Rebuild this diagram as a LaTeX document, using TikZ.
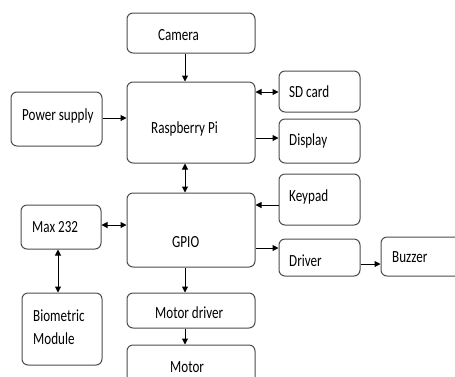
\documentclass[tikz,border=0pt]{standalone}
\usepackage{fontspec}
\usepackage{graphicx}
\setmainfont{Carlito}
\usetikzlibrary{arrows.meta}
\newcommand{\sq}[1]{\scalebox{0.77}[1]{#1}}
\tikzset{
  box/.style={draw=black!70, line width=1pt, rounded corners=6pt, inner sep=0pt, fill=white},
  lbl/.style={anchor=base west, inner sep=0pt, font=\fontsize{17}{20}\selectfont, text=black},
  conn/.style={line width=1pt, -{Triangle[length=6pt,width=6pt]}},
  bconn/.style={line width=1pt, {Triangle[length=6pt,width=6pt]}-{Triangle[length=6pt,width=6pt]}}
}
\newcommand{\bx}[5]{%
  \node[box, minimum width=#4pt-#2pt, minimum height=#5pt-#3pt] (#1) at ({(#2+#4)/2*1pt},{-(#3+#5)/2*1pt}) {};}
\begin{document}
\begin{tikzpicture}
\useasboundingbox (0,0) rectangle (455pt,-376pt);
\clip (0,0) rectangle (455pt,-376pt);
\bx{cam}{127}{13}{255}{53}
\bx{rpi}{127}{82}{255}{163}
\bx{pow}{11}{92}{102}{146}
\bx{sd}{279}{71}{360}{112}
\bx{disp}{279}{119}{360}{163}
\bx{key}{279}{174}{360}{225}
\bx{gpio}{127}{193}{255}{267}
\bx{drv}{279}{239}{360}{276}
\bx{buz}{381}{237}{520}{276}
\bx{max}{21}{205}{101}{249}
\bx{bio}{22}{293}{102}{365}
\bx{mdrv}{127}{293}{255}{328}
\bx{mot}{127}{345}{255}{420}
% labels
\node[lbl] (tcam) at (158pt,-40pt) {\sq{Camera}};
\node[lbl] (trpi) at (151pt,-133pt) {\sq{Raspberry Pi}};
\node[lbl] (tpow) at (22pt,-120pt) {\sq{Power supply}};
\node[lbl] (tsd) at (289pt,-97pt) {\sq{SD card}};
\node[lbl] (tdisp) at (289pt,-145pt) {\sq{Display}};
\node[lbl] (tkey) at (289pt,-201pt) {\sq{Keypad}};
\node[lbl] (tgpio) at (172pt,-247pt) {\sq{GPIO}};
\node[lbl] (tdrv) at (289pt,-266pt) {\sq{Driver}};
\node[lbl] (tbuz) at (392pt,-262pt) {\sq{Buzzer}};
\node[lbl] (tmax) at (32pt,-232pt) {\sq{Max 232}};
\node[lbl] (tbio1) at (33pt,-321pt) {\sq{Biometric}};
\node[lbl] (tbio2) at (33pt,-344pt) {\sq{Module}};
\node[lbl] (tmdrv) at (155pt,-318pt) {\sq{Motor driver}};
\node[lbl] (tmot) at (170pt,-372pt) {\sq{Motor}};
% connectors
\draw[conn] (cam.south -| 185pt,0) -- (rpi.north -| 185pt,0);
\draw[conn] (pow.east |- 0,-118pt) -- (rpi.west |- 0,-118pt);
\draw[bconn] (rpi.east |- 0,-92pt) -- (sd.west |- 0,-92pt);
\draw[conn] (rpi.east |- 0,-138pt) -- (disp.west |- 0,-138pt);
\draw[bconn] (rpi.south -| 185pt,0) -- (gpio.north -| 185pt,0);
\draw[bconn] (max.east |- 0,-225pt) -- (gpio.west |- 0,-225pt);
\draw[bconn] (max.south -| 58pt,0) -- (bio.north -| 58pt,0);
\draw[conn] (key.west |- 0,-205pt) -- (gpio.east |- 0,-205pt);
\draw[conn] (gpio.east |- 0,-248pt) -- (drv.west |- 0,-248pt);
\draw[conn] (drv.east |- 0,-264pt) -- (buz.west |- 0,-264pt);
\draw[conn] (gpio.south -| 185pt,0) -- (mdrv.north -| 185pt,0);
\draw[conn] (mdrv.south -| 185pt,0) -- (mot.north -| 185pt,0);
\end{tikzpicture}
\end{document}
